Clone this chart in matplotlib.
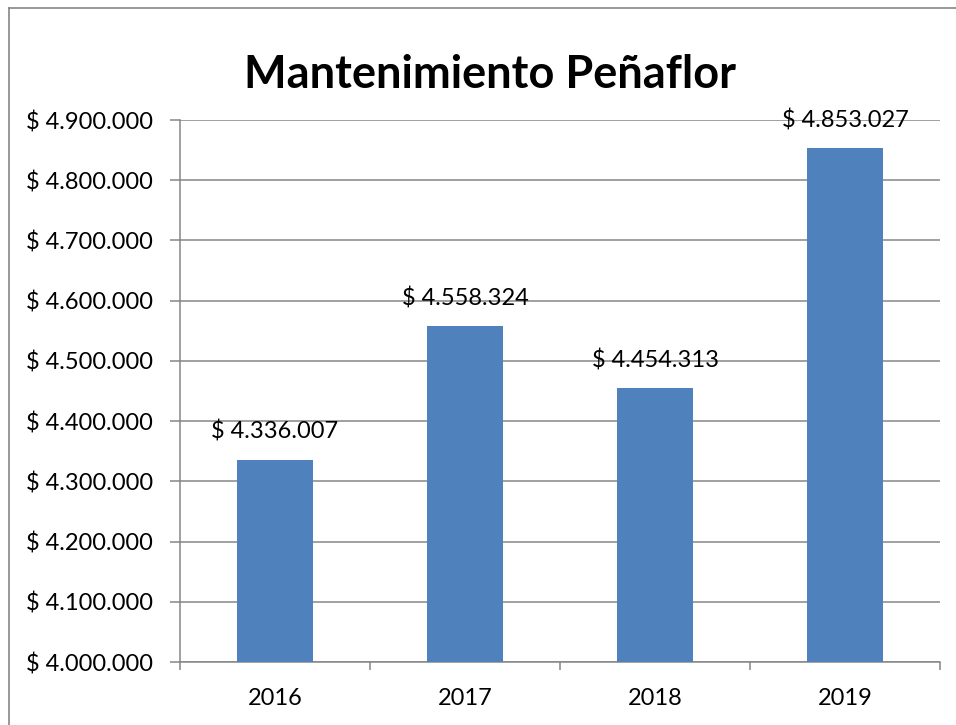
import matplotlib.pyplot as plt
from matplotlib.lines import Line2D
from matplotlib.ticker import FuncFormatter, FixedLocator

plt.rcParams['font.family'] = ['Lato', 'DejaVu Sans']

# datos
anios = ['2016', '2017', '2018', '2019']
montos = [4336007, 4558324, 4454313, 4853027]
y_ticks = [4000000, 4100000, 4200000, 4300000, 4400000,
           4500000, 4600000, 4700000, 4800000, 4900000]


def pesos(v, pos=None):
    return '$ ' + f'{int(round(v)):,}'.replace(',', '.')


gris = '#868686'
azul = '#4F81BD'

W, H = 956, 725
fig = plt.figure(figsize=(W / 100, H / 100), dpi=100)

# borde del grafico (solo se ve a la izquierda y arriba)
bx, by = 8.5 / W, 1 - 7.5 / H
fig.add_artist(Line2D([bx, bx], [0, by], transform=fig.transFigure, color=gris, linewidth=1.2))
fig.add_artist(Line2D([bx, 1], [by, by], transform=fig.transFigure, color=gris, linewidth=1.2))

ax = fig.add_axes([180 / W, 63 / H, 760 / W, 542 / H])

x = list(range(len(anios)))
barras = ax.bar(x, montos, width=0.4, color=azul, zorder=3)
ax.bar_label(barras, labels=[pesos(v) for v in montos], padding=12, fontsize=17)

ax.set_xlim(-0.5, 3.5)
ax.set_ylim(4000000, 4900000)
ax.set_yticks(y_ticks)
ax.yaxis.set_major_formatter(FuncFormatter(pesos))
ax.set_xticks(x)
ax.set_xticklabels(anios)
ax.xaxis.set_minor_locator(FixedLocator([-0.5, 0.5, 1.5, 2.5, 3.5]))

ax.grid(axis='y', color=gris, linewidth=1.1, zorder=0)
ax.tick_params(axis='y', length=7.2, color=gris, width=1.1, labelsize=17, pad=12)
ax.tick_params(axis='x', which='major', length=0, labelsize=17, pad=19)
ax.tick_params(axis='x', which='minor', length=5.8, color=gris, width=1.1)

for lado in ['top', 'right']:
    ax.spines[lado].set_visible(False)
for lado in ['left', 'bottom']:
    ax.spines[lado].set_color(gris)
    ax.spines[lado].set_linewidth(1.1)

fig.text(490 / W, 1 - 75 / H, 'Mantenimiento Peñaflor', ha='center', va='center',
         fontsize=32.5, fontweight='bold')

fig.savefig('out.png', dpi=100)
